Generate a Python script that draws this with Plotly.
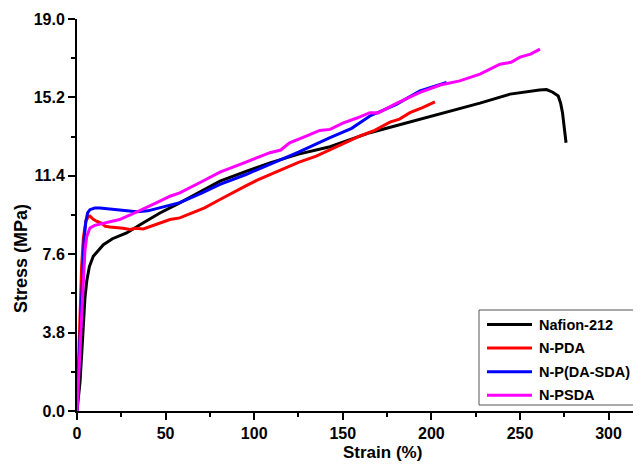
import plotly.graph_objects as go

# stress-strain curves
names = ["Nafion-212", "N-PDA", "N-P(DA-SDA)", "N-PSDA"]
colors = ["#000000", "#FF0000", "#0000FF", "#FF00FF"]

nafion_x = [0, 0.8, 1.7, 2.6, 3.6, 4.5, 5.5, 7, 9.2, 12, 14.9, 20, 28, 37, 46.8, 58, 70, 80.7, 95,
            108.9, 125, 142.8, 165.3, 193.6, 216, 227.4, 244.4, 255, 261, 265, 268.5, 271.6, 273,
            274, 275, 276]
nafion_y = [0, 0.6, 1.4, 2.7, 4.5, 5.5, 6.3, 7.0, 7.5, 7.8, 8.06, 8.35, 8.63, 9.1, 9.6, 10.09, 10.65,
            11.14, 11.6, 12.03, 12.45, 12.81, 13.49, 14.14, 14.63, 14.92, 15.36, 15.5, 15.56, 15.58,
            15.45, 15.27, 14.9, 14.46, 13.8, 13.0]

pda_x = [0, 0.8, 1.7, 2.6, 3.6, 5, 6.5, 7.3, 9, 11, 14, 16, 18.6, 22, 26, 30, 33, 37.4, 42, 46, 52.5,
         58, 65, 72, 80.7, 88, 95, 102, 108.9, 117, 125, 135, 142.8, 150, 159.7, 168, 176.6, 182,
         187.9, 195, 202]
pda_y = [0, 2.5, 5.06, 7.0, 8.4, 9.2, 9.44, 9.45, 9.3, 9.2, 9.1, 8.95, 8.92, 8.9, 8.86, 8.8, 8.86,
         8.82, 8.95, 9.1, 9.28, 9.36, 9.6, 9.85, 10.25, 10.6, 10.9, 11.2, 11.46, 11.75, 12.05, 12.35,
         12.68, 12.95, 13.33, 13.6, 14.0, 14.15, 14.46, 14.7, 14.98]

pdasda_x = [0, 1, 2, 3, 4, 5, 6, 7.3, 10, 13, 18, 24, 30, 33.7, 40, 47, 52.5, 58, 70, 80.7, 95, 108.9,
            125, 142.8, 155, 165.3, 180, 193.6, 200, 208.6]
pdasda_y = [0, 2.0, 4.5, 6.8, 8.3, 9.2, 9.6, 9.76, 9.84, 9.84, 9.8, 9.74, 9.68, 9.66, 9.7, 9.85, 10.0,
            10.1, 10.55, 10.98, 11.45, 11.95, 12.55, 13.25, 13.7, 14.3, 14.85, 15.52, 15.7, 15.92]

psda_x = [0, 1, 2, 2.6, 3.5, 4.5, 5.5, 7.3, 10, 15, 20, 24, 30, 35.6, 45, 52.5, 58, 70, 80.7, 95,
          108.9, 115, 120, 130, 137, 142.8, 150, 158, 165.3, 170, 180, 193.6, 205, 216, 227.4, 238.7,
          245, 250, 256, 261.3]
psda_y = [0, 1.5, 3.5, 4.57, 6.5, 7.8, 8.46, 8.87, 9.0, 9.1, 9.2, 9.28, 9.5, 9.71, 10.1, 10.41, 10.57,
          11.1, 11.58, 12.05, 12.52, 12.65, 13.0, 13.35, 13.6, 13.65, 13.95, 14.2, 14.46, 14.45, 14.9,
          15.44, 15.8, 16.0, 16.33, 16.81, 16.9, 17.15, 17.3, 17.54]

y_ticks = [0.0, 3.8, 7.6, 11.4, 15.2, 19.0]

series = [(nafion_x, nafion_y), (pda_x, pda_y), (pdasda_x, pdasda_y), (psda_x, psda_y)]

# the page body has an 8px margin, so the figure is shrunk by that much
OFF = 8
W, H = 641 - OFF, 465 - OFF
L, R, T, B = 77 - OFF, 0, 19 - OFF, 54
x_max = 318.3

fig = go.Figure()
for (xs, ys), name, c in zip(series, names, colors):
    fig.add_trace(go.Scatter(x=xs, y=ys, mode="lines", name=name,
                             line=dict(color=c, width=3), showlegend=False))

font = dict(family="Liberation Sans, Arial, sans-serif", size=16, color="black", weight="bold")

fig.update_layout(
    width=W, height=H,
    margin=dict(l=L, r=R, t=T, b=B),
    plot_bgcolor="white", paper_bgcolor="white",
    xaxis=dict(range=[0, x_max], dtick=50, tick0=0, showgrid=False, zeroline=False,
               showline=True, linewidth=2, linecolor="black",
               ticks="outside", ticklen=7, tickwidth=2, tickcolor="black",
               minor=dict(dtick=25, ticks="outside", ticklen=4, tickwidth=2, tickcolor="black"),
               tickfont=font),
    xaxis2=dict(range=[0, x_max], overlaying="x", side="top", showgrid=False, zeroline=False,
                showline=True, linewidth=2, linecolor="black", showticklabels=False,
                ticks="inside", ticklen=3, tickwidth=1, tickcolor="black", dtick=25, tick0=0),
    yaxis=dict(range=[0, 19], tickvals=y_ticks, tickformat=".1f", showgrid=False, zeroline=False,
               showline=True, linewidth=2, linecolor="black",
               ticks="outside", ticklen=7, tickwidth=2, tickcolor="black",
               minor=dict(dtick=1.9, tick0=0, ticks="outside", ticklen=4, tickwidth=2,
                          tickcolor="black"),
               tickfont=font),
)


# screen pixel -> paper fraction
def px(xp):
    return (xp - OFF - L) / (W - L - R)


def py(yp):
    return (H - B - (yp - OFF)) / (H - B - T)


# axis titles
fig.add_annotation(text="Strain (%)", xref="paper", yref="paper", x=px(382), y=py(452),
                   xanchor="center", yanchor="middle", showarrow=False, font=dict(font, size=17))
fig.add_annotation(text="Stress (MPa)", xref="paper", yref="paper", x=px(21), y=py(259),
                   xanchor="center", yanchor="middle", showarrow=False, textangle=-90,
                   font=dict(font, size=18))

# legend box drawn by hand
fig.add_shape(type="rect", xref="paper", yref="paper", x0=px(479), x1=px(640), y0=py(405),
              y1=py(310), line=dict(color="#555555", width=1), fillcolor="white", layer="above")
for i, (name, c) in enumerate(zip(names, colors)):
    yy = py(324.5 + i * 23.6)
    fig.add_shape(type="line", xref="paper", yref="paper", x0=px(487), x1=px(532), y0=yy, y1=yy,
                  line=dict(color=c, width=3), layer="above")
    fig.add_annotation(text=name, xref="paper", yref="paper", x=px(537), y=yy, xanchor="left",
                       yanchor="middle", showarrow=False, font=dict(font, size=14.5))

fig.write_html("out.html")
